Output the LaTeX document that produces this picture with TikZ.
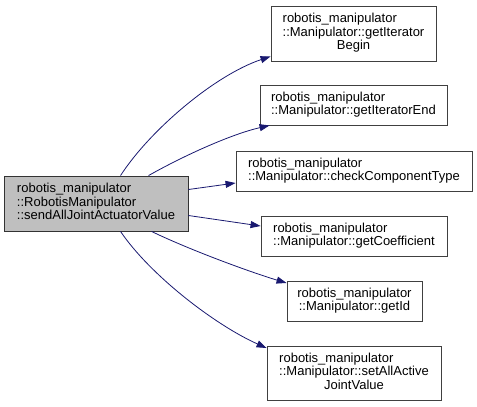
\documentclass[tikz,border=0pt]{standalone}
\usepackage{fontspec}
\setmainfont{Liberation Sans}
\usetikzlibrary{arrows.meta}
\definecolor{edgeblue}{HTML}{191970}
\definecolor{boxgray}{HTML}{BFBFBF}
\begin{document}
\begin{tikzpicture}[x=1pt,y=-1pt,
  fn/.style={draw=black!75, line width=0.9pt, inner sep=0pt, fill=white,
    font=\fontsize{13}{14}\selectfont},
  mainfn/.style={fn, fill=boxgray, draw=black!80},
  call/.style={draw=edgeblue, line width=0.8pt, -{Triangle[length=10pt,width=7pt,fill=edgeblue]}}]
\useasboundingbox (0,0) rectangle (477,407);
\newcommand{\twol}[2]{\begin{tabular}{@{}l@{}}#1\\#2\end{tabular}}
\newcommand{\threel}[3]{\begin{tabular}{@{}l@{}}#1\\#2\\\multicolumn{1}{@{}c@{}}{#3}\end{tabular}}
\renewcommand{\arraystretch}{0.95}
\node[mainfn, minimum width=184pt, minimum height=55pt] (main) at (96,203.5)
  {\begin{tabular}{@{}l@{}}robotis\_manipulator\\::RobotisManipulator\\::sendAllJointActuatorValue\end{tabular}};
\node[fn, minimum width=165pt, minimum height=55pt] (begin) at (353.5,33.5)
  {\threel{robotis\_manipulator}{::Manipulator::getIterator}{Begin}};
\node[fn, minimum width=187pt, minimum height=40pt] (end) at (353.5,105)
  {\twol{robotis\_manipulator}{::Manipulator::getIteratorEnd}};
\node[fn, minimum width=236pt, minimum height=40pt] (check) at (354,171)
  {\twol{robotis\_manipulator}{::Manipulator::checkComponentType}};
\node[fn, minimum width=186pt, minimum height=40pt] (coeff) at (354,236)
  {\twol{robotis\_manipulator}{::Manipulator::getCoefficient}};
\node[fn, minimum width=135pt, minimum height=40pt] (getid) at (354.5,301)
  {\begin{tabular}{@{}c@{}}robotis\_manipulator\\::Manipulator::getId\end{tabular}};
\node[fn, minimum width=174pt, minimum height=54pt] (setall) at (354,373)
  {\threel{robotis\_manipulator}{::Manipulator::setAllActive}{JointValue}};
\draw[call] ([xshift=117pt]main.north west) .. controls (150,130) and (215,75) .. ([yshift=5pt]begin.south west);
\draw[call] ([xshift=145pt]main.north west) .. controls (185,155) and (232,134) .. ([xshift=10pt]end.south west);
\draw[call] ([yshift=14pt]main.east) -- ([yshift=-12pt]check.west);
\draw[call] ([yshift=-12pt]main.east) -- ([yshift=10pt]coeff.west);
\draw[call] ([xshift=148pt]main.south west) .. controls (190,250) and (250,272) .. ([yshift=18pt]getid.west);
\draw[call] ([xshift=117pt]main.south west) .. controls (150,275) and (215,325) .. ([yshift=25pt]setall.west);
\end{tikzpicture}
\end{document}
